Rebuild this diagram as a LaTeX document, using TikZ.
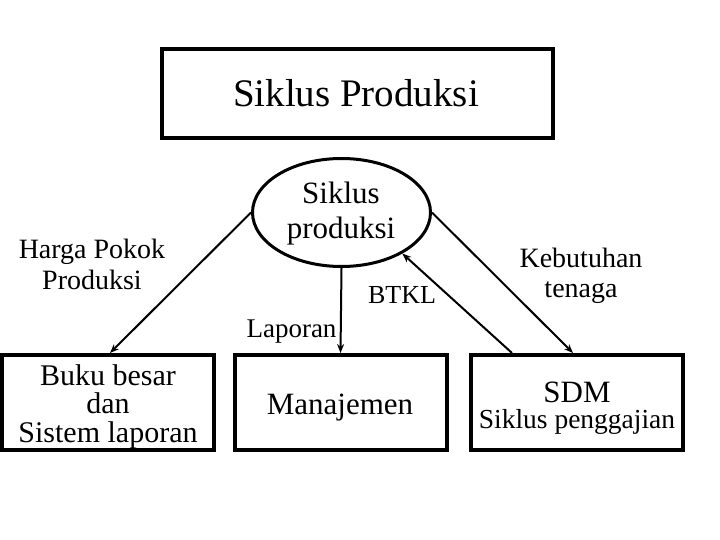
\documentclass[tikz,border=0pt]{standalone}
\usepackage{fontspec}
\setmainfont{Liberation Serif}
\usetikzlibrary{shapes.geometric,arrows.meta,calc}
\begin{document}
\begin{tikzpicture}[x=1pt,y=-1pt,
  boxnode/.style={draw,line width=4pt,inner sep=0pt,minimum width=212pt,minimum height=95pt,align=center},
  lbl/.style={inner sep=0pt,align=center,font=\fontsize{28}{31}\selectfont},
  conn/.style={line width=2pt,-{Stealth[length=9pt,width=7pt]}},
  ]
\useasboundingbox (0,0) rectangle (720,540);
\node[draw,line width=4pt,inner sep=0pt,minimum width=391pt,minimum height=89pt] (title) at (357.5,93.5) {};
\node[anchor=base,inner sep=0pt,font=\fontsize{39}{40}\selectfont] (titletext) at (356,107) {Siklus Produksi};
\node[ellipse,draw,line width=3pt,inner sep=0pt,minimum width=178pt,minimum height=108pt] (ell) at (341.5,212.5) {};
\node[anchor=base,lbl,font=\fontsize{31}{35}\selectfont] (ellt) at (341,238) {Siklus\\produksi};
\node[boxnode] (buku) at (108,402.5) {};
\node[anchor=base,lbl,font=\fontsize{30}{28.5}\selectfont] (bukut) at (108,442) {Buku besar\\dan\\Sistem laporan};
\node[boxnode] (man) at (340.5,402.5) {};
\node[anchor=base,lbl,font=\fontsize{31}{33}\selectfont] (mant) at (340,414) {Manajemen};
\node[boxnode] (sdm) at (577,402.5) {};
\node[anchor=base,lbl,font=\fontsize{31}{33}\selectfont] (sdmt) at (577,402) {SDM};
\node[anchor=base,lbl,font=\fontsize{27.5}{30}\selectfont] (sdmt2) at (577,428) {Siklus penggajian};
\node[anchor=base,lbl] (harga) at (92,289) {Harga Pokok\\Produksi};
\node[anchor=base,lbl,font=\fontsize{28}{29.5}\selectfont] (kebut) at (581,297) {Kebutuhan\\tenaga};
\node[anchor=base,lbl,font=\fontsize{26}{30}\selectfont] (btkl) at (402,303) {BTKL};
\node[anchor=base,lbl,font=\fontsize{27}{30}\selectfont] (lap) at (291.5,337) {Laporan};
\draw[conn] (ell.west) -- ([xshift=2pt]buku.north);
\draw[conn] (ell.south) -- (man.north);
\draw[conn] ([xshift=-65pt]sdm.north) -- (ell.-34);
\draw[conn] (ell.east) -- ([xshift=-4pt]sdm.north);
\end{tikzpicture}
\end{document}
